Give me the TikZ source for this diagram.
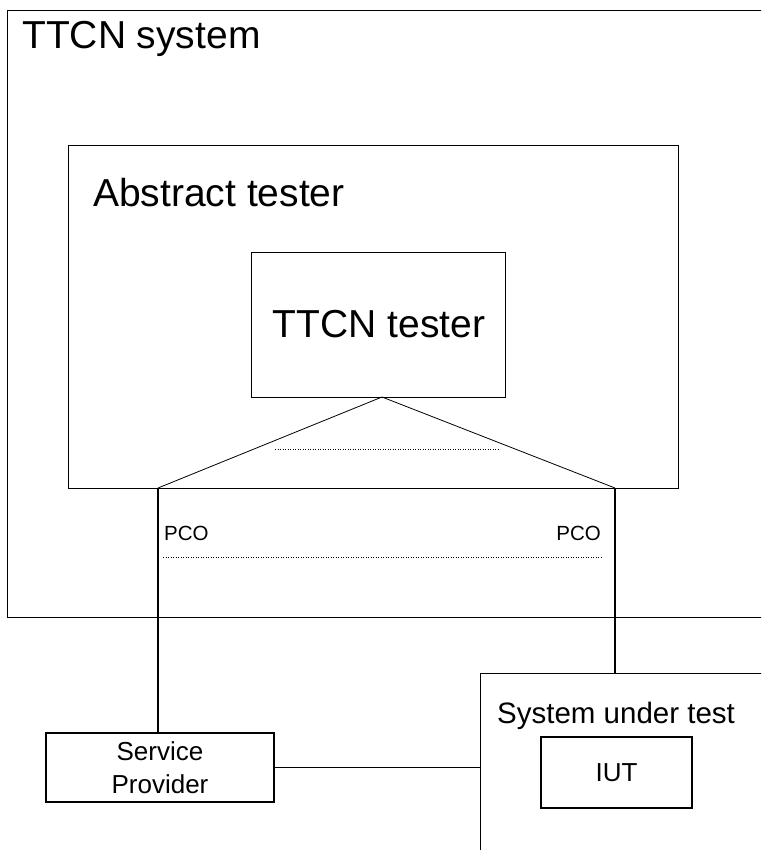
\documentclass[tikz,border=0pt]{standalone}
\usepackage{fontspec}
\setmainfont{Liberation Sans}
\begin{document}
\begin{tikzpicture}[x=1pt,y=1pt,
  box/.style={draw, line width=1.1pt, inner sep=0pt, anchor=north west},
  lbl/.style={inner sep=0pt, anchor=base west},
  conn/.style={line width=1.1pt},
  thin/.style={line width=0.8pt},
  dotline/.style={line width=0.8pt, dash pattern=on 1.2pt off 1.3pt},
  big/.style={font=\fontsize{39}{45}\selectfont},
  mid/.style={font=\fontsize{26}{33}\selectfont}]
\useasboundingbox (0,0) rectangle (761,-850);
\clip (0,0) rectangle (761,-850);
% TTCN system (open to the right)
\node[box, minimum width=820pt, minimum height=607pt] (sys) at (7,-10) {};
\node[lbl, big] (syslbl) at (22,-49) {TTCN system};
% Abstract tester
\node[box, minimum width=610pt, minimum height=343pt] (abs) at (68,-145) {};
\node[lbl, big] (abslbl) at (93,-207) {Abstract tester};
% TTCN tester
\node[box, minimum width=254pt, minimum height=145pt] (tt) at (251,-252) {};
\node[lbl, big, anchor=base] (ttlbl) at (379,-337) {TTCN tester};
% PCO points
\coordinate (apex) at (382,-397);
\coordinate (pcoL) at (158,-488);
\coordinate (pcoR) at (615,-488);
\draw[thin] (apex) -- (pcoL);
\draw[thin] (apex) -- (pcoR);
\coordinate (d1a) at (275,-449);
\coordinate (d1b) at (500,-449);
\draw[dotline] (d1a) -- (d1b);
\node[lbl, font=\fontsize{20.5}{24}\selectfont] (pcol) at (164,-540) {PCO};
\node[lbl, anchor=base east, font=\fontsize{20.5}{24}\selectfont] (pcor) at (601,-540) {PCO};
\coordinate (d2a) at (163,-557);
\coordinate (d2b) at (601,-557);
\draw[dotline] (d2a) -- (d2b);
% Service provider
\node[draw, line width=1.1pt, minimum width=228pt, minimum height=69pt, align=center, inner sep=0pt, mid] (sp) at (160,-767.5) {Service\\Provider};
% System under test (extends past the edges)
\node[box, minimum width=320pt, minimum height=220pt] (sut) at (480,-673) {};
\node[lbl, font=\fontsize{29.5}{34}\selectfont] (sutlbl) at (497,-723) {System under test};
\node[draw, line width=1.1pt, minimum width=151pt, minimum height=71pt, inner sep=0pt, mid] (iut) at (616.5,-772.5) {IUT};
% connectors
\draw[conn] (pcoL) -- (pcoL |- sp.north);
\draw[conn] (pcoR) -- (pcoR |- sut.north);
\draw[conn] (sp.east) -- (sp.east -| sut.west);
\end{tikzpicture}
\end{document}
